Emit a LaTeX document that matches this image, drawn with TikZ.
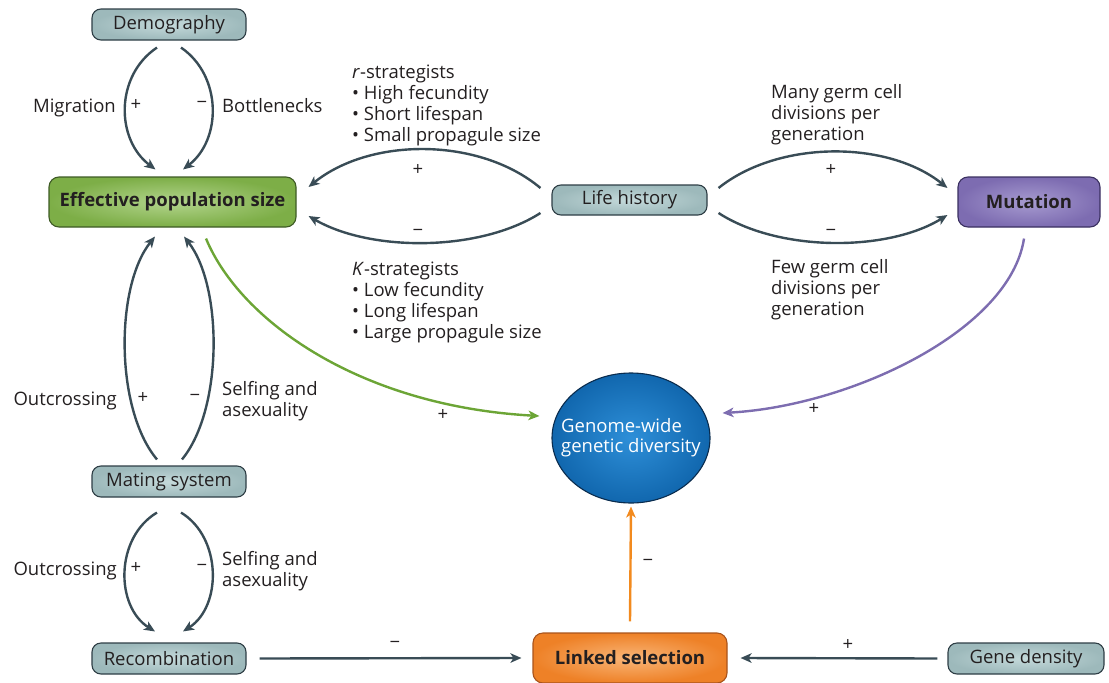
\documentclass[tikz,border=0pt]{standalone}
\usepackage{fontspec}
\setmainfont{Open Sans}
\usetikzlibrary{arrows.meta,shapes.geometric}
\definecolor{txt}{HTML}{231F20}
\definecolor{arrowc}{HTML}{394C56}
\definecolor{boxborder}{HTML}{2E3E45}
\definecolor{boxin}{HTML}{C4D9DA}
\definecolor{boxout}{HTML}{9DB9BB}
\definecolor{greenin}{HTML}{B2D48C}
\definecolor{greenout}{HTML}{7DAE47}
\definecolor{greenborder}{HTML}{3E5A25}
\definecolor{greenarr}{HTML}{6CA536}
\definecolor{purpin}{HTML}{A79BD0}
\definecolor{purpout}{HTML}{7D6CB1}
\definecolor{purpborder}{HTML}{3A3060}
\definecolor{purparr}{HTML}{7D6DB0}
\definecolor{orin}{HTML}{F9B577}
\definecolor{orout}{HTML}{EE8127}
\definecolor{orborder}{HTML}{A9541C}
\definecolor{orarr}{HTML}{F28A1E}
\definecolor{bluein}{HTML}{2E8FD8}
\definecolor{blueout}{HTML}{1167AE}
\definecolor{blueborder}{HTML}{0A2C4E}
\begin{document}
\begin{tikzpicture}[x=1pt,y=-1pt,
  every node/.style={font=\fontsize{18.5}{21}\selectfont, text=txt},
  greybox/.style={draw=boxborder, line width=1.1pt, rounded corners=9pt,
    inner color=boxin, outer color=boxout, minimum width=154pt, minimum height=31pt, inner sep=0pt},
  bigbox/.style={line width=1.1pt, rounded corners=10pt, minimum height=50pt, inner sep=0pt,
    font=\fontsize{18.5}{21}\selectfont\bfseries},
  arr/.style={line width=2.4pt, draw=arrowc, -{Stealth[length=11pt,width=9.5pt,inset=3pt]}},
  lab/.style={inner sep=0pt},
  sign/.style={inner sep=0pt}
]
\useasboundingbox (0,0) rectangle (1109,683);

% nodes
\node[greybox] (demo) at (169,24.5) {Demography};
\node[bigbox, draw=greenborder, inner color=greenin, outer color=greenout, minimum width=247pt] (eps) at (172.5,202) {Effective population size};
\node[greybox, minimum width=155pt, minimum height=30pt] (lh) at (629.5,200) {Life history};
\node[bigbox, draw=purpborder, inner color=purpin, outer color=purpout, minimum width=142pt] (mut) at (1029,202) {Mutation};
\node[ellipse, draw=blueborder, line width=1.1pt, inner color=bluein, outer color=blueout,
  minimum width=158pt, minimum height=130pt, inner sep=0pt, text=white,
  font=\fontsize{18.5}{19.5}\selectfont] (gd) at (631,438)
  {\makebox[90pt][c]{\begin{tabular}{@{}l@{}}Genome-wide\\genetic diversity\end{tabular}}};
\node[greybox] (mat) at (169,481.5) {Mating system};
\node[greybox] (rec) at (169,658.5) {Recombination};
\node[bigbox, draw=orborder, inner color=orin, outer color=orout, minimum width=194pt] (ls) at (630,658) {Linked selection};
\node[greybox, minimum width=156pt] (gene) at (1026,658.5) {Gene density};

% Demography -> Effective population size
\draw[arr] ([shift={(-12,7)}]demo.south) .. controls +(-42,28) and +(-40,-30) .. ([shift={(-17,-7)}]eps.north);
\draw[arr] ([shift={(12,7)}]demo.south) .. controls +(41,28) and +(39,-30) .. ([shift={(10.5,-7)}]eps.north);
\node[lab, anchor=base east] (migr) at (116,112) {Migration};
\node[sign] (p1) at (136,105) {+};
\node[sign] (m1) at (202,105) {−};
\node[lab, anchor=base west] (bott) at (222,112) {Bottlenecks};

% Mating system -> Effective population size
\draw[arr] ([shift={(-12,-6)}]mat.north) .. controls +(-42,-50) and +(-40,50) .. ([shift={(-17.5,9)}]eps.south);
\draw[arr] ([shift={(13,-6)}]mat.north) .. controls +(41,-50) and +(39,50) .. ([shift={(11.5,9)}]eps.south);
\node[lab, anchor=base east] (out1) at (117,405.5) {Outcrossing};
\node[sign] (p2) at (143,398) {+};
\node[sign] (m2) at (195,398) {−};
\node[lab, anchor=base west] (self1) at (222,395) {Selfing and};
\node[lab, anchor=base west] (asex1) at (222,416) {asexuality};

% Mating system -> Recombination
\draw[arr] ([shift={(-12,15)}]mat.south) .. controls +(-42,25) and +(-40,-25) .. ([shift={(-14,-11)}]rec.north);
\draw[arr] ([shift={(12,15)}]mat.south) .. controls +(41,25) and +(39,-25) .. ([shift={(14,-11)}]rec.north);
\node[lab, anchor=base east] (out2) at (117,575) {Outcrossing};
\node[sign] (p3) at (136,568) {+};
\node[sign] (m3) at (202,568) {−};
\node[lab, anchor=base west] (self2) at (222,565) {Selfing and};
\node[lab, anchor=base west] (asex2) at (222,586) {asexuality};

% Life history -> Effective population size
\draw[arr] ([shift={(-11,-12)}]lh.west) .. controls +(-61,-51) and +(62,-50) .. ([shift={(12,-15)}]eps.east);
\draw[arr] ([shift={(-11,13)}]lh.west) .. controls +(-61,39) and +(62,36) .. ([shift={(12,14)}]eps.east);
\node[sign] (p4) at (418,170) {+};
\node[sign] (m4) at (418,233) {−};
\node[lab, anchor=north west, align=left] (rstr) at (352,63.5) {\strut\textit{r}-strategists\\• High fecundity\\• Short lifespan\\• Small propagule size};
\node[lab, anchor=north west, align=left] (kstr) at (352,261) {\strut\textit{K}-strategists\\• Low fecundity\\• Long lifespan\\• Large propagule size};

% Life history -> Mutation
\draw[arr] ([shift={(11,-12)}]lh.east) .. controls +(60,-48) and +(-60,-48) .. ([shift={(-10,-14)}]mut.west);
\draw[arr] ([shift={(11,13)}]lh.east) .. controls +(60,39) and +(-60,37) .. ([shift={(-10,13)}]mut.west);
\node[sign] (p5) at (831,170) {+};
\node[sign] (m5) at (831,233) {−};
\node[lab, anchor=north west, align=left] (many) at (771,83.5) {\strut Many germ cell\\divisions per\\generation};
\node[lab, anchor=north west, align=left] (few) at (771,259) {\strut Few germ cell\\divisions per\\generation};

% Effective population size -> diversity
\draw[arr, draw=greenarr, -{Stealth[length=11pt,width=9.5pt,inset=3pt,fill=greenarr]}] ([shift={(33.5,11)}]eps.south) .. controls +(34,82) and +(-180,-10) .. ([shift={(-12,-22)}]gd.west);
\node[sign] (p6) at (443,415) {+};

% Mutation -> diversity
\draw[arr, draw=purparr, -{Stealth[length=11pt,width=9.5pt,inset=3pt,fill=purparr]}] ([shift={(-5,11)}]mut.south) .. controls +(-14,92) and +(128,-7) .. ([shift={(12,-25)}]gd.east);
\node[sign] (p7) at (814,409) {+};

% Linked selection -> diversity
\draw[arr, draw=orarr, -{Stealth[length=11pt,width=9.5pt,inset=3pt,fill=orarr]}] ([shift={(0,-11)}]ls.north) -- ([shift={(0,3)}]gd.south);
\node[sign] (m8) at (648,563) {−};

% Recombination -> Linked selection
\draw[arr] ([shift={(13,0)}]rec.east) -- ([shift={(-11,0)}]ls.west);
\node[sign] (m9) at (395,645) {−};

% Gene density -> Linked selection
\draw[arr] ([shift={(-10,0)}]gene.west) -- ([shift={(13,0)}]ls.east);
\node[sign] (p10) at (848,645) {+};
\end{tikzpicture}
\end{document}
